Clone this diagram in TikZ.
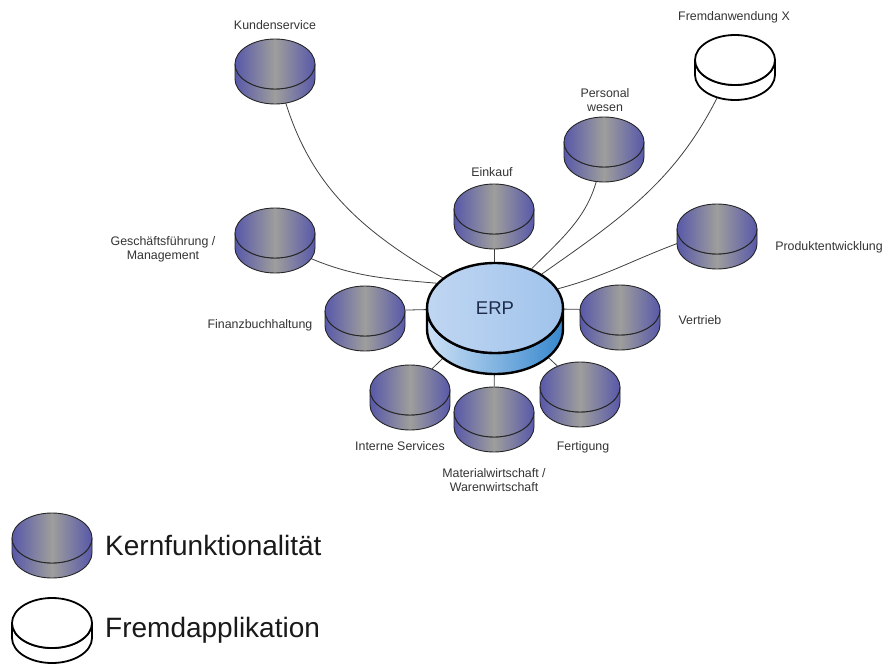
\documentclass[tikz,border=0pt]{standalone}
\usepackage{fontspec}
\setmainfont{Liberation Sans}
\usetikzlibrary{shapes.geometric,calc}

\definecolor{diskblue}{RGB}{88,88,170}
\definecolor{diskgray}{RGB}{158,158,156}
\definecolor{erptopL}{RGB}{192,214,242}
\definecolor{erptopR}{RGB}{160,195,235}
\definecolor{erpsideL}{RGB}{205,225,245}
\definecolor{erpsideR}{RGB}{55,135,205}
\definecolor{erptext}{RGB}{30,45,75}

\pgfdeclarelayer{background}
\pgfsetlayers{background,main}

\tikzset{
	kernfill/.style={draw=black!85,line width=0.9pt,line join=round,
		left color=diskblue,right color=diskblue,middle color=diskgray},
	fremdfill/.style={draw=black,line width=1.8pt,line join=round,fill=white},
	disktop/.style={ellipse,minimum width=80pt,minimum height=50pt,inner sep=0pt},
	lbl/.style={font=\fontsize{12.4}{14}\selectfont,text=black!80,align=center,inner sep=0pt},
	legtext/.style={font=\fontsize{28}{32}\selectfont,text=black!90,inner sep=0pt,
		text height=20pt,text depth=0pt},
	link/.style={draw=black!75,line width=0.8pt}
}

% one disk: side band first, then the top ellipse as a named node
\newcommand\disk[3][kernfill]{%
	\path[#1] ($(#3)+(40,0)$) -- ++(0,-15)
	arc[start angle=0,end angle=-180,x radius=40pt,y radius=25pt] -- ++(0,15)
	arc[start angle=180,end angle=360,x radius=40pt,y radius=25pt] -- cycle;
	\node[disktop,#1] (#2) at (#3) {};
}

\begin{document}
\begin{tikzpicture}[x=1pt,y=1pt]
	\useasboundingbox (0,0) rectangle (885,-666);
	
	% ERP in the middle
	\path[draw=black,line width=2.4pt,line join=round,left color=erpsideL,right color=erpsideR]
	(563,-308) -- ++(0,-21)
	arc[start angle=0,end angle=-180,x radius=68pt,y radius=45pt] -- ++(0,21)
	arc[start angle=180,end angle=360,x radius=68pt,y radius=45pt] -- cycle;
	\node[ellipse,minimum width=136pt,minimum height=90pt,inner sep=0pt,
	draw=black,line width=2.4pt,left color=erptopL,right color=erptopR,
	font=\fontsize{18.5}{20}\selectfont,text=erptext] (erp) at (495,-308) {ERP};
	
	% disks round it
	\disk{kunde}{275,-64}
	\disk[fremdfill]{fremd}{735,-60}
	\disk{personal}{604,-142}
	\disk{einkauf}{494,-209}
	\disk{gf}{275,-233}
	\disk{produkt}{717,-229}
	\disk{finanz}{365,-311}
	\disk{vertrieb}{620,-310}
	\disk{intern}{410,-390}
	\disk{material}{494,-412}
	\disk{fertigung}{580,-387}
	
	% legend
	\disk{legk}{52,-538}
	\disk[fremdfill]{legf}{52,-623}
	
	% labels
	\node[lbl,anchor=base] (kunde-t) at (275,-29.5) {Kundenservice};
	\node[lbl,anchor=base] (fremd-t) at (734,-20.5) {Fremdanwendung X};
	\node[lbl] (personal-t) at (605,-100) {Personal\\wesen};
	\node[lbl,anchor=base] (einkauf-t) at (492,-176.5) {Einkauf};
	\node[lbl] (gf-t) at (163,-249.5) {Geschäftsführung /\\Management};
	\node[lbl,anchor=base] (produkt-t) at (829,-250.5) {Produktentwicklung};
	\node[lbl,anchor=base] (finanz-t) at (260,-328.5) {Finanzbuchhaltung};
	\node[lbl,anchor=base] (vertrieb-t) at (700,-324.5) {Vertrieb};
	\node[lbl,anchor=base] (intern-t) at (400,-450.5) {Interne Services};
	\node[lbl] (material-t) at (494,-480) {Materialwirtschaft /\\Warenwirtschaft};
	\node[lbl,anchor=base] (fertigung-t) at (583,-450.5) {Fertigung};
	
	\node[legtext,anchor=west] (legk-t) at (105,-545) {Kernfunktionalität};
	\node[legtext,anchor=west] (legf-t) at (105,-627) {Fremdapplikation};
	
	% connectors behind the disks
	\begin{pgfonlayer}{background}
		\draw[link] (erp.150) to[out=150,in=-75] (kunde);
		\draw[link] (erp.157) to[out=175,in=-25] (gf.-40);
		\draw[link] (erp) -- (finanz);
		\draw[link] (erp) -- (intern);
		\draw[link] (erp) -- (material);
		\draw[link] (erp) -- (fertigung);
		\draw[link] (erp) -- (vertrieb);
		\draw[link] (erp.17) to[out=15,in=200] (produkt.200);
		\draw[link] (erp.36) to[out=35,in=-115] (fremd);
		\draw[link] (erp.47) to[out=45,in=-100] (personal);
		\draw[link] (erp) -- (einkauf);
	\end{pgfonlayer}
\end{tikzpicture}
\end{document}
